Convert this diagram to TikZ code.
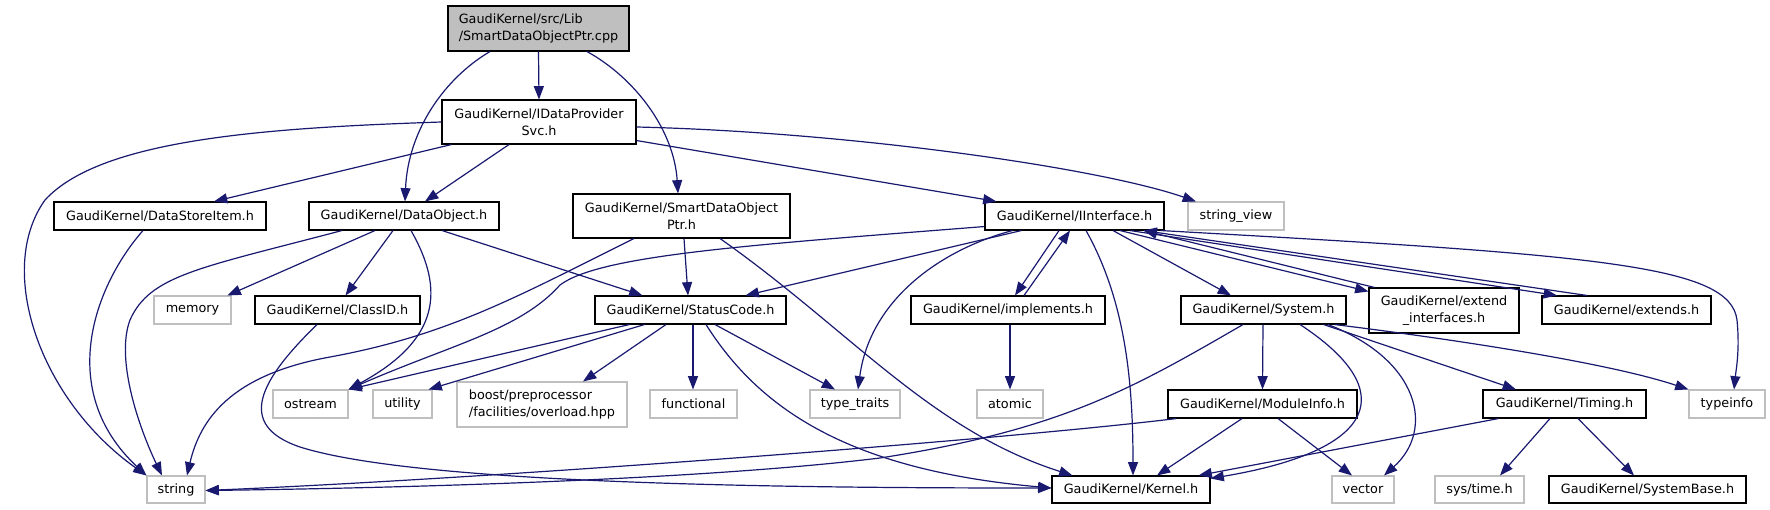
\documentclass[tikz,border=0pt]{standalone}
\usepackage{fontspec}
\setmainfont{DejaVu Sans}
\usetikzlibrary{arrows.meta,calc}
\definecolor{dblue}{HTML}{191970}
\definecolor{gray75}{HTML}{BFBFBF}
\newcommand\dxfont{\fontsize{9.6}{13}\selectfont}
\tikzset{
  nb/.style={draw=black, line width=0.8pt, fill=white, inner sep=0pt, font=\dxfont, align=center},
  ng/.style={nb, draw=gray75},
  sz/.style 2 args={minimum width=#1*0.75pt, minimum height=#2*0.75pt},
  dep/.style={draw=dblue, line width=0.9pt, -{Triangle[length=10pt,width=7.5pt]}},
}
\begin{document}
\begin{tikzpicture}[x=0.75pt,y=-0.75pt]
\useasboundingbox (0,0) rectangle (1770,510);
% nodes
\node[nb, fill=gray75, sz={181}{45}, align=left] (cpp) at (538.5,28.5) {GaudiKernel/src/Lib\\/SmartDataObjectPtr.cpp};
\node[nb, sz={194}{44}] (IDPS) at (539,122) {GaudiKernel/IDataProvider\\Svc.h};
\node[nb, sz={212}{28}] (DSI) at (160,216) {GaudiKernel/DataStoreItem.h};
\node[nb, sz={190}{28}] (DO) at (404,216) {GaudiKernel/DataObject.h};
\node[nb, sz={217}{44}] (SDOP) at (681.5,216) {GaudiKernel/SmartDataObject\\Ptr.h};
\node[nb, sz={179}{28}] (II) at (1074.5,216) {GaudiKernel/IInterface.h};
\node[ng, sz={96}{28}] (SV) at (1236,216) {string\_view};
\node[ng, sz={77}{28}] (memory) at (192.5,310) {memory};
\node[nb, sz={165}{28}] (ClassID) at (337.5,310) {GaudiKernel/ClassID.h};
\node[nb, sz={191}{28}] (SC) at (690.5,310) {GaudiKernel/StatusCode.h};
\node[nb, sz={194}{28}] (impl) at (1008,310) {GaudiKernel/implements.h};
\node[nb, sz={165}{28}] (Sys) at (1263.5,310) {GaudiKernel/System.h};
\node[nb, sz={150}{45}] (ExtIf) at (1444,310.5) {GaudiKernel/extend\\\_interfaces.h};
\node[nb, sz={169}{28}] (ext) at (1626.5,310) {GaudiKernel/extends.h};
\node[ng, sz={75}{28}] (ostream) at (310.5,404) {ostream};
\node[ng, sz={59}{28}] (utility) at (402.5,404) {utility};
\node[ng, sz={170}{45}, align=left] (boost) at (542,404.5) {boost/preprocessor\\/facilities/overload.hpp};
\node[ng, sz={87}{28}] (functional) at (693.5,404) {functional};
\node[ng, sz={90}{28}] (tt) at (855,404) {type\_traits};
\node[ng, sz={66}{28}] (atomic) at (1010,404) {atomic};
\node[nb, sz={189}{28}] (MI) at (1262.5,404) {GaudiKernel/ModuleInfo.h};
\node[nb, sz={163}{28}] (Timing) at (1564.5,404) {GaudiKernel/Timing.h};
\node[ng, sz={76}{28}] (typeinfo) at (1727,404) {typeinfo};
\node[ng, sz={58}{27}] (string) at (176,489.5) {string};
\node[nb, sz={158}{27}] (Kernel) at (1131,489.5) {GaudiKernel/Kernel.h};
\node[ng, sz={62}{27}] (vector) at (1363,489.5) {vector};
\node[ng, sz={89}{27}] (systime) at (1479.5,489.5) {sys/time.h};
\node[nb, sz={197}{27}] (SB) at (1647.5,489.5) {GaudiKernel/SystemBase.h};
% edges
\draw[dep] (cpp.south) -- (IDPS.north);
\draw[dep] ($(cpp.south)+(-48.5,0)$) .. controls (445,78) and (408,130) .. ($(DO.north)+(1,0)$);
\draw[dep] ($(cpp.south)+(48.5,0)$) .. controls (635,78) and (674,130) .. ($(SDOP.north)+(-3.5,0)$);
\draw[dep] (IDPS.west) .. controls (260,128) and (100,140) .. (45,200) .. controls (-5,270) and (40,400) .. (string.north west);
\draw[dep] ($(IDPS.south west)+(10,0)$) -- ($(DSI.north)+(54,0)$);
\draw[dep] ($(IDPS.south)+(-30,0)$) -- ($(DO.north)+(21,0)$);
\draw[dep] ($(IDPS.south east)+(0,-4)$) -- ($(II.north west)+(12,0)$);
\draw[dep] ($(IDPS.east)+(0,5)$) .. controls (850,132) and (1100,168) .. ($(SV.north)+(-40,0)$);
\draw[dep] ($(DSI.south)+(-17,0)$) .. controls (95,285) and (55,390) .. (string.north west);
\draw[dep] ($(DO.south)+(-62,0)$) .. controls (200,268) and (150,275) .. (130,320) .. controls (115,360) and (140,430) .. ($(string.north)+(-14,0)$);
\draw[dep] ($(DO.south)+(-29,0)$) -- ($(memory.north)+(35,0)$);
\draw[dep] ($(DO.south)+(-11,0)$) -- ($(ClassID.north)+(8,0)$);
\draw[dep] ($(DO.south)+(7,0)$) .. controls (445,290) and (440,340) .. (ostream.north east);
\draw[dep] ($(DO.south)+(38,0)$) -- ($(SC.north)+(-48,0)$);
\draw[dep] ($(SDOP.south)+(-47.5,0)$) .. controls (520,295) and (450,335) .. (330,357) .. controls (230,375) and (200,420) .. ($(string.north)+(11,0)$);
\draw[dep] ($(SDOP.south)+(2.5,0)$) -- ($(SC.north)+(-2.5,0)$);
\draw[dep] ($(SDOP.south)+(38.5,0)$) .. controls (850,330) and (930,430) .. ($(Kernel.north west)+(21,0)$);
\draw[dep] ($(ClassID.south)+(-20.5,0)$) .. controls (260,380) and (235,425) .. (300,447) .. controls (420,485) and (800,488) .. ($(Kernel.west)+(0,-1.5)$);
\draw[dep] ($(II.south west)+(0,-4)$) .. controls (750,245) and (600,255) .. (560,285) .. controls (520,330) and (450,345) .. (ostream.north east);
\draw[dep] ($(II.south west)+(37,0)$) -- ($(SC.north east)+(-41,0)$);
\draw[dep] ($(II.south west)+(28,0)$) .. controls (940,250) and (870,300) .. ($(tt.north)+(3,0)$);
\draw[dep] ($(II.south)+(-15.5,0)$) -- ($(impl.north)+(7,0)$);
\draw[dep] ($(impl.north)+(16,0)$) -- ($(II.south)+(-4.5,0)$);
\draw[dep] ($(II.south)+(11.5,0)$) .. controls (1125,300) and (1133,380) .. ($(Kernel.north)+(2,0)$);
\draw[dep] ($(II.south)+(38.5,0)$) -- ($(Sys.north)+(-32.5,0)$);
\draw[dep] ($(II.south)+(45.5,0)$) -- ($(ExtIf.north west)+(0,4)$);
\draw[dep] ($(ExtIf.north west)+(6,0)$) -- ($(II.south east)+(-21,0)$);
\draw[dep] ($(II.south)+(55.5,0)$) -- ($(ext.north)+(-69.5,0)$);
\draw[dep] ($(ext.north)+(-39.5,0)$) -- ($(II.south east)+(-21,0)$);
\draw[dep] ($(II.south east)+(-4,0)$) .. controls (1600,255) and (1730,265) .. (1737,320) .. controls (1740,350) and (1736,370) .. ($(typeinfo.north)+(7,0)$);
\draw[dep] ($(SC.south west)+(35,0)$) -- (ostream.north east);
\draw[dep] ($(SC.south west)+(50,0)$) -- ($(utility.north east)+(-4,0)$);
\draw[dep] ($(SC.south)+(-24.5,0)$) -- ($(boost.north)+(41,0)$);
\draw[dep] ($(SC.south)+(2.5,0)$) -- ($(functional.north)+(-0.5,0)$);
\draw[dep] ($(SC.south)+(24.5,0)$) -- ($(tt.north)+(-20,0)$);
\draw[dep] ($(SC.south)+(15.5,0)$) .. controls (760,410) and (850,470) .. ($(Kernel.west)+(0,-1.5)$);
\draw[dep] ($(impl.south)+(2,0)$) -- (atomic.north);
\draw[dep] ($(Sys.south)+(-20.5,0)$) .. controls (1130,390) and (1060,430) .. (880,458) .. controls (700,480) and (400,488) .. ($(string.east)+(0,1)$);
\draw[dep] ($(Sys.south)+(-0.5,0)$) -- (MI.north);
\draw[dep] ($(Sys.south)+(36.5,0)$) .. controls (1400,390) and (1380,450) .. ($(Kernel.north east)+(0,3)$);
\draw[dep] ($(Sys.south)+(64.5,0)$) .. controls (1420,360) and (1435,430) .. ($(vector.north)+(21,0)$);
\draw[dep] ($(Sys.south east)+(-23,0)$) -- ($(Timing.north)+(-48.5,0)$);
\draw[dep] ($(Sys.south east)+(-12,0)$) .. controls (1420,335) and (1600,360) .. (typeinfo.north west);
\draw[dep] ($(MI.south west)+(9,0)$) .. controls (1000,440) and (500,478) .. ($(string.east)+(0,1)$);
\draw[dep] ($(MI.south)+(-20.5,0)$) -- ($(Kernel.north)+(26,0)$);
\draw[dep] ($(MI.south)+(15.5,0)$) -- ($(vector.north)+(-11,0)$);
\draw[dep] ($(Timing.south west)+(16,0)$) -- ($(Kernel.north east)+(-12,0)$);
\draw[dep] ($(Timing.south)+(-14.5,0)$) -- ($(systime.north)+(20.5,0)$);
\draw[dep] ($(Timing.south)+(13.5,0)$) -- ($(SB.north)+(-13.5,0)$);
\end{tikzpicture}
\end{document}
